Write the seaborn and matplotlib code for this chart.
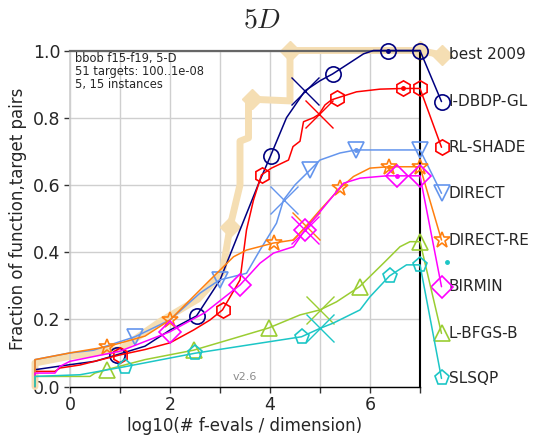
import matplotlib
matplotlib.use("Agg")
import matplotlib.pyplot as plt
import pandas as pd
import seaborn as sns

# ---- data: ECDF of runtimes, log10(#f-evals / dimension) vs fraction solved ----
names = ["best 2009", "I-DBDP-GL", "RL-SHADE", "DIRECT", "DIRECT-RE",
         "BIRMIN", "L-BFGS-B", "SLSQP"]

best_x = [-0.7, -0.7, 0.0, 1.0, 1.82, 2.56, 3.05, 3.2, 3.4, 3.4, 3.57, 3.57, 3.63, 4.4, 4.4, 7.0]
best_y = [0.0, 0.07, 0.09, 0.11, 0.195, 0.26, 0.34, 0.475, 0.6, 0.73, 0.74, 0.85, 0.855, 0.85, 1.0, 1.0]

idbdp_x = [-0.7, -0.7, 0.0, 0.5, 0.93, 1.5, 2.0, 2.53, 3.0, 3.4, 3.8, 4.01, 4.33, 4.7, 5.0,
           5.25, 5.53, 5.87, 6.07, 6.35, 7.0]
idbdp_y = [0.0, 0.05, 0.065, 0.075, 0.094, 0.12, 0.168, 0.21, 0.317, 0.466, 0.614, 0.686,
           0.80, 0.88, 0.91, 0.93, 0.957, 0.99, 1.0, 1.0, 1.0]

rlshade_x = [-0.7, -0.7, -0.3, -0.2, 0.2, 1.0, 1.5, 2.0, 2.47, 2.8, 3.05, 3.4, 3.53, 3.67,
             3.83, 4.03, 4.37, 4.46, 4.6, 4.67, 4.87, 4.98, 5.1, 5.23, 5.33, 5.73, 6.2, 6.65, 7.0]
rlshade_y = [0.0, 0.045, 0.045, 0.055, 0.064, 0.094, 0.11, 0.13, 0.168, 0.198, 0.228, 0.317,
             0.466, 0.555, 0.63, 0.65, 0.674, 0.714, 0.73, 0.788, 0.80, 0.81, 0.838, 0.853,
             0.858, 0.877, 0.885, 0.887, 0.887]

direct_x = [-0.7, -0.7, 0.0, 0.47, 1.3, 2.0, 2.6, 2.99, 3.53, 3.8, 4.13, 4.27, 4.5, 4.8,
            5.0, 5.4, 5.72, 7.0]
direct_y = [0.0, 0.08, 0.10, 0.108, 0.148, 0.198, 0.278, 0.317, 0.337, 0.406, 0.486, 0.555,
            0.60, 0.644, 0.674, 0.695, 0.704, 0.704]

directre_x = [-0.7, -0.7, 0.0, 0.73, 1.5, 2.0, 2.8, 3.27, 3.53, 4.07, 4.47, 4.72, 5.0, 5.4,
              5.67, 6.0, 6.37, 7.0]
directre_y = [0.0, 0.08, 0.10, 0.118, 0.15, 0.198, 0.317, 0.386, 0.406, 0.427, 0.436, 0.477,
              0.525, 0.59, 0.625, 0.65, 0.654, 0.654]

birmin_x = [-0.7, -0.7, -0.3, -0.2, 0.0, 1.0, 2.0, 2.7, 3.4, 3.8, 4.07, 4.47, 4.7, 5.0,
            5.47, 5.8, 6.33, 6.53, 7.0]
birmin_y = [0.0, 0.04, 0.04, 0.06, 0.075, 0.105, 0.163, 0.22, 0.302, 0.367, 0.397, 0.416,
            0.466, 0.52, 0.605, 0.62, 0.627, 0.627, 0.627]

lbfgsb_x = [-0.7, -0.7, 0.4, 0.5, 0.73, 1.5, 2.47, 3.2, 3.97, 4.6, 5.0, 5.33, 5.79, 6.27,
            6.6, 6.8, 7.0]
lbfgsb_y = [0.0, 0.03, 0.03, 0.04, 0.05, 0.08, 0.108, 0.14, 0.174, 0.213, 0.228, 0.252,
            0.297, 0.367, 0.416, 0.431, 0.431]

slsqp_x = [-0.7, -0.7, 0.2, 1.1, 2.5, 3.8, 4.63, 5.0, 5.27, 5.8, 6.0, 6.39, 6.73, 7.0]
slsqp_y = [0.0, 0.03, 0.035, 0.059, 0.099, 0.129, 0.148, 0.173, 0.189, 0.228, 0.267,
           0.329, 0.362, 0.362]

# end-of-line label positions (fraction axis)
label_y = [0.987, 0.848, 0.712, 0.575, 0.436, 0.297, 0.158, 0.024]

# indices of the marked points along each curve
mark_idx = [[7, 12, 14, 15], [4, 7, 11, 15, 19, 20], [5, 10, 14, 24, 27, 28],
            [4, 7, 13, 16, 17], [3, 5, 9, 13, 16, 17], [6, 8, 12, 17, 18],
            [4, 6, 8, 12, 16], [3, 4, 6, 11, 13]]
# index of the median-budget cross (None: no cross)
cross_idx = [None, 13, 21, 11, 11, 12, 10, 7]
# index of the point carrying a centre dot
dot_idx = [None, 19, 27, 16, 16, 17, None, None]

curves_x = [best_x, idbdp_x, rlshade_x, direct_x, directre_x, birmin_x, lbfgsb_x, slsqp_x]
curves_y = [best_y, idbdp_y, rlshade_y, direct_y, directre_y, birmin_y, lbfgsb_y, slsqp_y]

colors = ["wheat", "navy", "red", "cornflowerblue", "#ff7f0e", "magenta",
          "yellowgreen", "#1cc6c6"]
marker_shapes = ["D", "o", "h", "v", "*", "D", "^", "p"]

# ---- figure ----
sns.set_theme(style="white")
plt.rcParams["font.family"] = ["DejaVu Sans"]
plt.rcParams["mathtext.fontset"] = "cm"

fig = plt.figure(figsize=(5.35, 4.37), dpi=100)
ax = fig.add_axes([70 / 535, 1 - 386.5 / 437, 350 / 535, 336 / 437])

label_x = 7.43
text_x = 7.58
grid_col = "#cfcfcf"

for i, name in enumerate(names):
    xs = list(curves_x[i]) + [label_x]
    ys = list(curves_y[i]) + [label_y[i]]
    df = pd.DataFrame({"x": xs, "y": ys})
    c = colors[i]
    marks = mark_idx[i] + [len(xs) - 1]
    if i == 0:
        sns.lineplot(data=df, x="x", y="y", sort=False, estimator=None, ax=ax,
                     color=c, lw=5, alpha=1.0, marker="D", markevery=marks,
                     markersize=10, markerfacecolor=c, markeredgecolor=c,
                     markeredgewidth=1, clip_on=False, zorder=2)
    else:
        sns.lineplot(data=df, x="x", y="y", sort=False, estimator=None, ax=ax,
                     color=c, lw=1.1, marker=marker_shapes[i], markevery=marks,
                     markersize=11 if marker_shapes[i] != "*" else 12,
                     markerfacecolor="none", markeredgecolor=c,
                     markeredgewidth=1.2, clip_on=False, zorder=3 + i)
        if cross_idx[i] is not None:
            k = cross_idx[i]
            ax.plot([xs[k]], [ys[k]], marker="x", ms=20, mew=1.0, color=c,
                    ls="none", clip_on=False, zorder=3 + i)
        if dot_idx[i] is not None:
            k = dot_idx[i]
            ax.plot([xs[k]], [ys[k]], marker="o", ms=2.5, color=c,
                    ls="none", clip_on=False, zorder=3 + i)
    ax.text(text_x, label_y[i], name, va="center", ha="left", fontsize=11,
            clip_on=False)

# small stray dot beside the labels
ax.plot([7.53], [0.371], marker="o", ms=2.5, color=colors[7], ls="none", clip_on=False)

if ax.get_legend() is not None:
    ax.get_legend().remove()

ax.set_xlim(0, 7)
ax.set_ylim(0, 1)
ax.set_xticks(range(0, 8))
ax.set_xticklabels(["0", "", "2", "", "4", "", "6", ""])
ax.set_yticks([0, 0.2, 0.4, 0.6, 0.8, 1.0])
ax.set_yticklabels(["0.0", "0.2", "0.4", "0.6", "0.8", "1.0"])
ax.tick_params(axis="both", labelsize=12.5, length=4, width=1, direction="out",
               bottom=True, left=True, color="0.2", pad=3)
ax.grid(True, color=grid_col, lw=1.0, zorder=0)
ax.set_axisbelow(True)

ax.spines["left"].set_color(grid_col)
ax.spines["top"].set_color("0.4")
ax.spines["top"].set_linewidth(1.6)
ax.spines["right"].set_color("black")
ax.spines["right"].set_linewidth(1.5)
ax.spines["bottom"].set_color("black")
ax.spines["bottom"].set_linewidth(1.0)

ax.set_xlabel("log10(# f-evals / dimension)", fontsize=12, labelpad=2)
ax.set_ylabel("Fraction of function,target pairs", fontsize=12, labelpad=4)

ax.text(0.014, 0.995, "bbob f15-f19, 5-D\n51 targets: 100..1e-08\n5, 15 instances",
        transform=ax.transAxes, va="top", ha="left", fontsize=8.3, linespacing=1.0)
ax.text(3.5, 0.028, "v2.6", color="0.55", fontsize=8, ha="center", va="center")

fig.text(262 / 535, 1 - 20 / 437, r"$5D$", ha="center", va="center", fontsize=20)

fig.savefig("out.png", dpi=100)
